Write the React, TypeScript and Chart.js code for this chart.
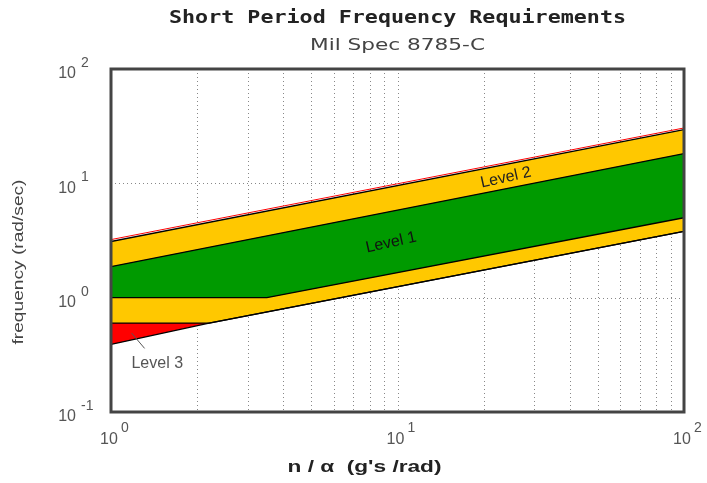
import React, { useEffect, useRef } from "react";
import { Chart, registerables } from "chart.js";

Chart.register(...registerables);

// ---- Data ----
const level3UpperX = [1, 100];
const level3UpperY = [3.22, 30.5];
const level2UpperX = [1, 100];
const level2UpperY = [3.1, 29.5];
const level1UpperX = [1, 100];
const level1UpperY = [1.87, 18.2];
const level1LowerX = [1, 3.5, 100];
const level1LowerY = [1.0, 1.0, 5.0];
const level2LowerX = [1, 2.2, 100];
const level2LowerY = [0.6, 0.6, 3.8];
const level3LowerX = [1, 2.2, 100];
const level3LowerY = [0.39, 0.6, 3.8];

const xGridValues = [2, 3, 4, 5, 6, 7, 8, 9, 10, 20, 30, 40, 50, 60, 70, 80, 90];
const yGridValues = [1, 10];
const xTickValues = [1, 10, 100];
const xTickExps = ["0", "1", "2"];
const yTickValues = [0.1, 1, 10, 100];
const yTickExps = ["-1", "0", "1", "2"];

const titleText = "Short Period Frequency Requirements";
const subtitleText = "Mil Spec 8785-C";
const xAxisLabel = "n / \u03B1  (g's /rad)";
const yAxisLabel = "frequency (rad/sec)";

// label anchor points in data coordinates
const level1Label = { text: "Level 1", x: 9.5, y: 3.03 };
const level2Label = { text: "Level 2", x: 23.9, y: 11.2 };
const level3Label = { text: "Level 3", x: 1.45, y: 0.265 };
const level3Leader = { x1: 1.18, y1: 0.49, x2: 1.31, y2: 0.36 };

const pts = (xs: number[], ys: number[]) => xs.map((x, i) => ({ x, y: ys[i] }));

const GREEN = "#009a00";
const YELLOW = "#ffc800";
const RED = "#ff0000";

function fitText(
  ctx: CanvasRenderingContext2D,
  text: string,
  cx: number,
  cy: number,
  width: number,
  font: string,
  color: string,
  angle = 0
) {
  ctx.save();
  ctx.font = font;
  ctx.fillStyle = color;
  ctx.textAlign = "center";
  ctx.textBaseline = "middle";
  const w = ctx.measureText(text).width;
  ctx.translate(cx, cy);
  ctx.rotate(angle);
  if (width > 0) ctx.scale(width / w, 1);
  ctx.fillText(text, 0, 0);
  ctx.restore();
}

const decorPlugin = {
  id: "decor",
  beforeDraw(chart: any) {
    const { ctx, chartArea: a, scales } = chart;
    const xs = scales.x;
    const ys = scales.y;
    ctx.save();
    ctx.strokeStyle = "#888";
    ctx.lineWidth = 1;
    ctx.setLineDash([1, 3]);
    xGridValues.forEach((v) => {
      const px = Math.round(xs.getPixelForValue(v)) + 0.5;
      ctx.beginPath();
      ctx.moveTo(px, a.top);
      ctx.lineTo(px, a.bottom);
      ctx.stroke();
    });
    yGridValues.forEach((v) => {
      const py = Math.round(ys.getPixelForValue(v)) + 0.5;
      ctx.beginPath();
      ctx.moveTo(a.left, py);
      ctx.lineTo(a.right, py);
      ctx.stroke();
    });
    ctx.restore();
  },
  afterDraw(chart: any) {
    const { ctx, chartArea: a, scales } = chart;
    const xs = scales.x;
    const ys = scales.y;
    const cx = (a.left + a.right) / 2;

    // frame
    ctx.save();
    ctx.strokeStyle = "#444";
    ctx.lineWidth = 3;
    ctx.strokeRect(a.left, a.top, a.right - a.left, a.bottom - a.top);
    ctx.restore();

    // titles
    fitText(ctx, titleText, cx, 19, 457, 'bold 17px "DejaVu Sans Mono"', "#222");
    fitText(ctx, subtitleText, cx, 46, 175, '15px "DejaVu Sans"', "#444");
    fitText(ctx, xAxisLabel, cx - 33, 468, 154, 'bold 16px "Liberation Sans"', "#222");
    fitText(ctx, yAxisLabel, 19, 262, 165, '14px "Liberation Sans"', "#444", -Math.PI / 2);

    // tick labels
    ctx.save();
    ctx.fillStyle = "#555";
    ctx.textBaseline = "middle";
    xTickValues.forEach((v, i) => {
      const px = xs.getPixelForValue(v);
      ctx.font = '16px "Liberation Sans"';
      ctx.textAlign = "center";
      const w = ctx.measureText("10").width;
      ctx.fillText("10", px - 2, 440);
      ctx.font = '14px "Liberation Sans"';
      ctx.textAlign = "left";
      ctx.fillText(xTickExps[i], px - 2 + w / 2 + 3, 428);
    });
    yTickValues.forEach((v, i) => {
      const py = ys.getPixelForValue(v);
      ctx.font = '16px "Liberation Sans"';
      ctx.textAlign = "right";
      ctx.fillText("10", 76, py + 5);
      ctx.font = '14px "Liberation Sans"';
      ctx.textAlign = "left";
      ctx.fillText(yTickExps[i], 81, py - 6);
    });
    ctx.restore();

    // level labels
    const ang = -12.5 * Math.PI / 180;
    fitText(ctx, level1Label.text, xs.getPixelForValue(level1Label.x), ys.getPixelForValue(level1Label.y), 0, '16px "Liberation Sans"', "#111", ang);
    fitText(ctx, level2Label.text, xs.getPixelForValue(level2Label.x), ys.getPixelForValue(level2Label.y), 0, '16px "Liberation Sans"', "#222", ang);
    fitText(ctx, level3Label.text, xs.getPixelForValue(level3Label.x), ys.getPixelForValue(level3Label.y), 0, '16px "Liberation Sans"', "#555", 0);
    ctx.save();
    ctx.strokeStyle = "#555";
    ctx.lineWidth = 1;
    ctx.beginPath();
    ctx.moveTo(xs.getPixelForValue(level3Leader.x1), ys.getPixelForValue(level3Leader.y1));
    ctx.lineTo(xs.getPixelForValue(level3Leader.x2), ys.getPixelForValue(level3Leader.y2));
    ctx.stroke();
    ctx.restore();
  },
};

export default function App() {
  const ref = useRef<HTMLCanvasElement | null>(null);
  useEffect(() => {
    if (!ref.current) return;
    const line = (data: any, color: string, fill: any, bg: string, bw = 1.3) => ({
      data,
      borderColor: color,
      borderWidth: bw,
      backgroundColor: bg,
      fill,
      pointRadius: 0,
      tension: 0,
    });
    const chart = new Chart(ref.current, {
      type: "line",
      data: {
        datasets: [
          line(pts(level1LowerX, level1LowerY), "#000", { target: 1 }, GREEN),
          line(pts(level1UpperX, level1UpperY), "#000", false, "transparent"),
          line(pts(level3LowerX, level3LowerY), "#000", { target: 3 }, RED),
          line(pts(level2LowerX, level2LowerY), "#000", { target: 4 }, YELLOW),
          line(pts(level2UpperX, level2UpperY), "#000", false, "transparent"),
          line(pts(level3UpperX, level3UpperY), RED, false, "transparent", 1),
        ] as any,
      },
      options: {
        animation: false,
        responsive: false,
        parsing: false as any,
        layout: { padding: { left: 111, right: 23, top: 69, bottom: 71 } },
        scales: {
          x: { type: "logarithmic", min: 1, max: 100, display: false },
          y: { type: "logarithmic", min: 0.1, max: 100, display: false },
        },
        plugins: {
          legend: { display: false },
          tooltip: { enabled: false },
          filler: { drawTime: "beforeDatasetsDraw" } as any,
        },
      },
      plugins: [decorPlugin as any],
    });
    return () => chart.destroy();
  }, []);
  return (
    <div style={{ position: "fixed", left: 0, top: 0, width: 707, height: 483, background: "#fff" }}>
      <canvas ref={ref} width={707} height={483} style={{ display: "block" }} />
    </div>
  );
}
